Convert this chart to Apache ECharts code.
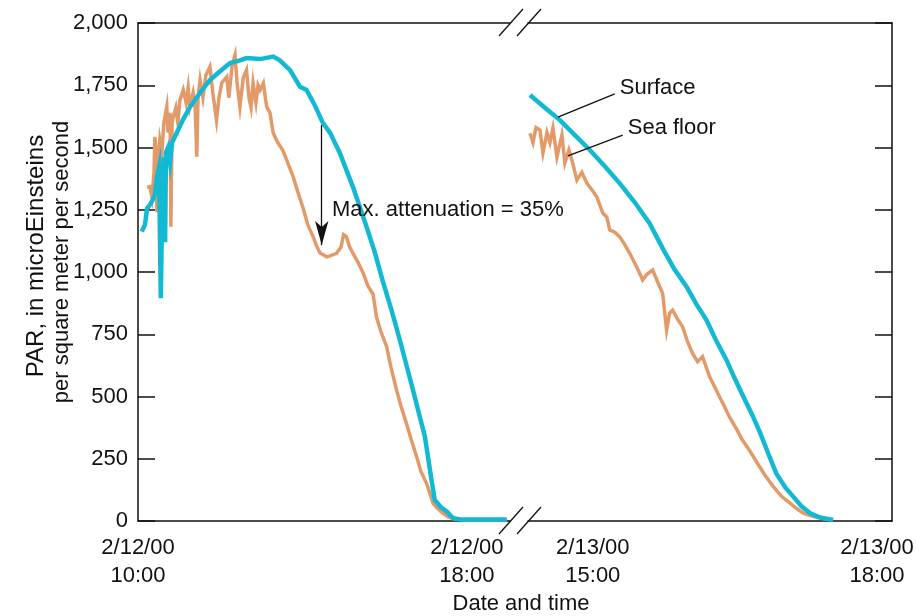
<!DOCTYPE html>
<html>
<head>
<meta charset="utf-8">
<script src="https://cdn.jsdelivr.net/npm/echarts@6/dist/echarts.min.js"></script>
<style>
  html, body { margin: 0; padding: 0; background: #fff; }
  #chart { width: 916px; height: 616px; }
</style>
</head>
<body>
<div id="chart"></div>
<script>
// 2/12/00, hours of the day
const day1SurfaceHours = [10.09, 10.17, 10.22, 10.29, 10.36, 10.41, 10.46, 10.51, 10.555, 10.60, 10.63, 10.66, 10.68, 10.73, 10.78, 10.83, 10.94, 11.09, 11.27, 11.51, 11.75, 11.99, 12.24, 12.48, 12.64, 12.97, 13.29, 13.45, 13.70, 13.94, 14.10, 14.30, 14.50, 14.67, 14.91, 15.23, 15.56, 15.76, 15.96, 16.18, 16.37, 16.69, 16.98, 17.14, 17.22, 17.37, 17.51, 17.66, 17.83, 18.32, 18.97]
const day1SurfacePar = [1162, 1190, 1255, 1270, 1290, 1310, 1380, 1420, 895, 1400, 1460, 1120, 1480, 1500, 1440, 1520, 1558, 1610, 1664, 1720, 1771, 1805, 1839, 1850, 1859, 1855, 1865, 1850, 1811, 1744, 1731, 1670, 1598, 1560, 1478, 1341, 1182, 1080, 960, 840, 727, 526, 339, 165, 84, 55, 38, 12, 6, 6, 6]

const day1FloorHours = [10.22, 10.29, 10.34, 10.39, 10.41, 10.44, 10.46, 10.49, 10.53, 10.58, 10.63, 10.70, 10.73, 10.78, 10.80, 10.83, 10.86, 10.92, 10.97, 11.02, 11.10, 11.17, 11.22, 11.26, 11.34, 11.39, 11.43, 11.46, 11.51, 11.58, 11.65, 11.75, 11.82, 11.91, 11.97, 12.04, 12.16, 12.21, 12.29, 12.36, 12.41, 12.48, 12.56, 12.64, 12.70, 12.75, 12.80, 12.87, 12.92, 12.97, 13.05, 13.13, 13.21, 13.29, 13.40, 13.52, 13.64, 13.78, 13.89, 14.02, 14.13, 14.26, 14.35, 14.43, 14.59, 14.67, 14.83, 14.94, 15.00, 15.07, 15.15, 15.23, 15.35, 15.48, 15.59, 15.72, 15.80, 15.91, 16.05, 16.15, 16.29, 16.40, 16.53, 16.64, 16.78, 16.88, 17.02, 17.18, 17.29, 17.42, 17.56, 17.66, 17.83, 18.32, 18.97]
const day1FloorPar = [1340, 1343, 1300, 1400, 1543, 1480, 1240, 1450, 1530, 1478, 1600, 1664, 1560, 1640, 1182, 1600, 1624, 1660, 1600, 1690, 1731, 1680, 1740, 1664, 1720, 1660, 1463, 1700, 1771, 1700, 1790, 1824, 1720, 1610, 1700, 1760, 1784, 1700, 1830, 1871, 1760, 1664, 1780, 1811, 1700, 1660, 1758, 1680, 1750, 1731, 1758, 1664, 1640, 1557, 1520, 1490, 1440, 1380, 1320, 1255, 1190, 1142, 1102, 1076, 1061, 1065, 1075, 1100, 1150, 1142, 1100, 1075, 1040, 995, 945, 910, 820, 760, 700, 620, 526, 460, 392, 330, 258, 200, 151, 71, 50, 31, 15, 10, 6, 5, 5]

// 2/13/00
const day2SurfaceHours = [14.37, 14.52, 14.67, 14.82, 14.97, 15.12, 15.27, 15.42, 15.57, 15.71, 15.82, 15.94, 16.04, 16.14, 16.23, 16.34, 16.42, 16.51, 16.60, 16.68, 16.76, 16.84, 16.93, 17.01, 17.09, 17.18, 17.28, 17.41]
const day2SurfacePar = [1711, 1660, 1610, 1550, 1490, 1425, 1356, 1280, 1195, 1088, 1010, 941, 870, 807, 730, 647, 575, 499, 425, 352, 270, 191, 135, 98, 60, 31, 14, 4]

const day2FloorHours = [14.37, 14.40, 14.43, 14.47, 14.50, 14.54, 14.57, 14.60, 14.64, 14.69, 14.72, 14.76, 14.79, 14.84, 14.89, 14.94, 14.99, 15.04, 15.10, 15.14, 15.17, 15.22, 15.27, 15.32, 15.37, 15.44, 15.50, 15.54, 15.60, 15.65, 15.70, 15.74, 15.77, 15.80, 15.85, 15.90, 15.95, 16.00, 16.05, 16.10, 16.17, 16.22, 16.27, 16.32, 16.37, 16.44, 16.50, 16.58, 16.65, 16.73, 16.81, 16.89, 16.98, 17.05, 17.11, 17.20, 17.28, 17.38]
const day2FloorPar = [1557, 1520, 1580, 1570, 1478, 1560, 1520, 1578, 1462, 1550, 1438, 1490, 1450, 1369, 1400, 1357, 1330, 1302, 1237, 1220, 1169, 1160, 1141, 1110, 1075, 1020, 968, 990, 1008, 960, 914, 767, 835, 847, 810, 780, 720, 673, 640, 660, 580, 540, 499, 460, 418, 370, 325, 278, 232, 182, 138, 100, 71, 48, 31, 20, 12, 6]

const day1Date = '2/12/00'
const day2Date = '2/13/00'
const day1Ticks = [10, 18]
const day2Ticks = [15, 18]
const parTicks = [0, 250, 500, 750, 1000, 1250, 1500, 1750, 2000]

const colSurface = '#13b8d3'
const colFloor = '#e39a69'
const ink = '#111'
const font = '"Liberation Sans", Arial, Helvetica, sans-serif'

function pairs(xs, ys) {
  return xs.map((x, i) => [x, ys[i]])
}

function fmtPar(v) {
  if (v < 1000) return String(v)
  return Math.floor(v / 1000) + ',' + String(v % 1000).padStart(3, '0')
}

const labelText = { color: ink, fontSize: 22, fontFamily: font, lineHeight: 28 }

function timeAxis(grid, min, max, ticks, date, tucked) {
  return {
    type: 'value',
    gridIndex: grid,
    min: min,
    max: max,
    axisLine: { show: true, lineStyle: { color: ink, width: 1.5 } },
    axisTick: { show: false },
    splitLine: { show: false },
    axisLabel: Object.assign({
      customValues: ticks,
      // the last label of the chart is pulled in a little so it stays on the page
      formatter: (v) => {
        const tag = v === tucked ? 'e' : 'n'
        return '{' + tag + '|' + date + '}\n{' + tag + '|' + v + ':00}'
      },
      margin: 13,
      align: 'center',
      rich: {
        n: Object.assign({}, labelText),
        e: Object.assign({ padding: [0, 30, 0, 0] }, labelText),
      },
    }, labelText),
  }
}

function topLine(grid, min, max) {
  return {
    type: 'value',
    gridIndex: grid,
    position: 'top',
    min: min,
    max: max,
    axisLine: { show: true, lineStyle: { color: ink, width: 1.5 } },
    axisTick: { show: false },
    axisLabel: { show: false },
    splitLine: { show: false },
  }
}

function parAxis(grid, side, labels) {
  return {
    type: 'value',
    gridIndex: grid,
    position: side,
    min: 0,
    max: 2000,
    interval: 250,
    axisLine: { show: true, lineStyle: { color: ink, width: 1.5 } },
    axisTick: { show: true, inside: true, length: 17, lineStyle: { color: ink, width: 1.5 } },
    splitLine: { show: false },
    axisLabel: {
      show: labels,
      customValues: parTicks,
      formatter: fmtPar,
      color: ink,
      fontSize: 22,
      fontFamily: font,
      margin: 10,
    },
  }
}

function lineSeries(name, x, y, data, color, width, extra) {
  return Object.assign({
    name: name,
    type: 'line',
    xAxisIndex: x,
    yAxisIndex: y,
    data: data,
    showSymbol: false,
    symbol: 'none',
    animation: false,
    lineStyle: { color: color, width: width, join: 'miter' },
  }, extra || {})
}

function note(coord, text) {
  return {
    coord: coord,
    symbol: 'circle',
    symbolSize: 0,
    label: {
      show: true,
      position: 'right',
      distance: 0,
      formatter: text,
      color: ink,
      fontSize: 22,
      fontFamily: font,
    },
  }
}

function leader(from, to) {
  return [{ coord: from }, { coord: to }]
}

const markStyle = { color: ink, width: 1.3, type: 'solid' }

const option = {
  animation: false,
  backgroundColor: '#fff',
  grid: [
    { left: 138, top: 23, width: 372, height: 498, outerBoundsMode: 'none' },
    { left: 528, top: 23, width: 364, height: 498, outerBoundsMode: 'none' },
  ],
  xAxis: [
    timeAxis(0, 10, 19.05, day1Ticks, day1Date, null),
    timeAxis(1, 14.35, 18, day2Ticks, day2Date, 18),
    topLine(0, 10, 19.05),
    topLine(1, 14.35, 18),
  ],
  yAxis: [
    parAxis(0, 'left', true),
    parAxis(1, 'right', false),
  ],
  series: [
    lineSeries('Sea floor', 0, 0, pairs(day1FloorHours, day1FloorPar), colFloor, 3.5),
    lineSeries('Surface', 0, 0, pairs(day1SurfaceHours, day1SurfacePar), colSurface, 4.5, {
      markLine: {
        silent: true,
        animation: false,
        label: { show: false },
        lineStyle: markStyle,
        data: [[
          { coord: [14.47, 1590], symbol: 'none' },
          { coord: [14.47, 1108], symbol: 'arrow', symbolSize: [10, 24] },
        ]],
      },
      markPoint: {
        silent: true,
        animation: false,
        data: [note([14.72, 1249], 'Max. attenuation = 35%')],
      },
    }),
    lineSeries('Sea floor', 1, 1, pairs(day2FloorHours, day2FloorPar), colFloor, 3.5, {
      markLine: {
        silent: true,
        animation: false,
        symbol: 'none',
        label: { show: false },
        lineStyle: markStyle,
        data: [leader([14.75, 1466], [15.30, 1550])],
      },
      markPoint: {
        silent: true,
        animation: false,
        data: [note([15.35, 1578], 'Sea floor')],
      },
    }),
    lineSeries('Surface', 1, 1, pairs(day2SurfaceHours, day2SurfacePar), colSurface, 4.5, {
      markLine: {
        silent: true,
        animation: false,
        symbol: 'none',
        label: { show: false },
        lineStyle: markStyle,
        data: [leader([14.65, 1622], [15.22, 1715])],
      },
      markPoint: {
        silent: true,
        animation: false,
        data: [note([15.27, 1739], 'Surface')],
      },
    }),
  ],
  graphic: [
    // axis break marks
    { type: 'rect', shape: { x: 511, y: 15, width: 16, height: 16 }, style: { fill: '#fff' } },
    { type: 'line', shape: { x1: 499, y1: 36, x2: 523, y2: 9 }, style: { stroke: ink, lineWidth: 1.3 } },
    { type: 'line', shape: { x1: 517, y1: 36, x2: 541, y2: 9 }, style: { stroke: ink, lineWidth: 1.3 } },
    { type: 'line', shape: { x1: 499, y1: 534, x2: 523, y2: 507 }, style: { stroke: ink, lineWidth: 1.3 } },
    { type: 'line', shape: { x1: 517, y1: 534, x2: 541, y2: 507 }, style: { stroke: ink, lineWidth: 1.3 } },
    {
      type: 'text', x: 36, y: 256, rotation: Math.PI / 2,
      style: {
        text: 'PAR, in microEinsteins',
        fill: ink, fontSize: 24, fontFamily: font,
        align: 'center', verticalAlign: 'middle',
      },
    },
    {
      type: 'text', x: 62, y: 262, rotation: Math.PI / 2,
      style: {
        text: 'per square meter per second',
        fill: ink, fontSize: 22, fontFamily: font,
        align: 'center', verticalAlign: 'middle',
      },
    },
    {
      type: 'text', x: 521, y: 604,
      style: {
        text: 'Date and time',
        fill: ink, fontSize: 22, fontFamily: font,
        align: 'center', verticalAlign: 'middle',
      },
    },
  ],
}

const chart = echarts.init(document.getElementById('chart'), null, { renderer: 'canvas' })
chart.setOption(option)
</script>
</body>
</html>
